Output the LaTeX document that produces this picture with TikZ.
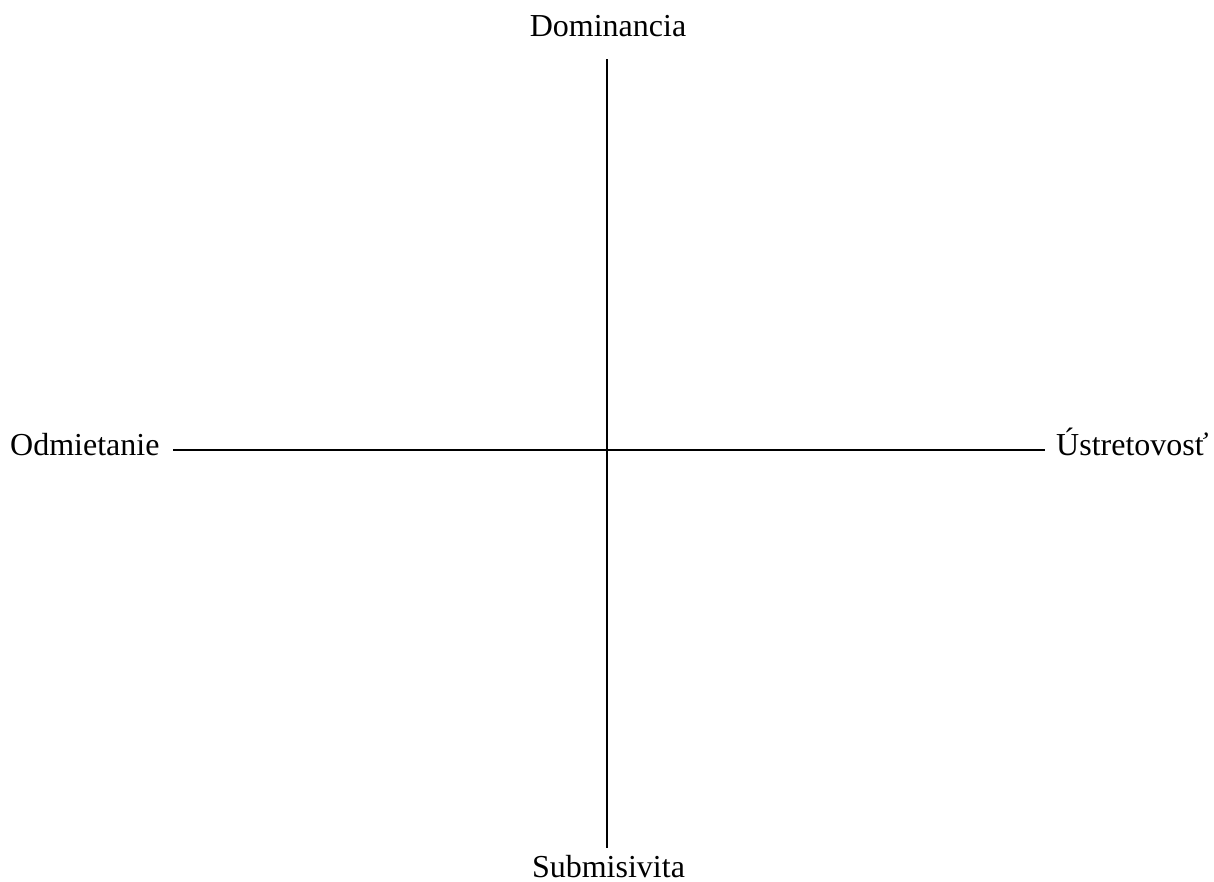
\documentclass[tikz,border=0pt]{standalone}
\usepackage{fontspec}
\setmainfont{Liberation Serif}
\begin{document}
\begin{tikzpicture}[x=1pt,y=-1pt,
  lbl/.style={inner sep=0pt,font=\fontsize{32}{38}\selectfont},
  axis/.style={line width=2pt}]
\useasboundingbox (0,0) rectangle (1214,881);
\node[lbl,anchor=base] (dom) at (608,36.5) {Dominancia};
\node[lbl,anchor=base] (sub) at (608.5,877) {Submisivita};
\node[lbl,anchor=base west] (odm) at (10,455) {Odmietanie};
\node[lbl,anchor=base west] (ust) at (1056,455) {Ústretovosť};
\coordinate (top) at (607,59);
\coordinate (bot) at (607,848);
\coordinate (left) at (173,450);
\coordinate (right) at (1045,450);
\draw[axis] (top) -- (bot);
\draw[axis] (left) -- (right);
\end{tikzpicture}
\end{document}
